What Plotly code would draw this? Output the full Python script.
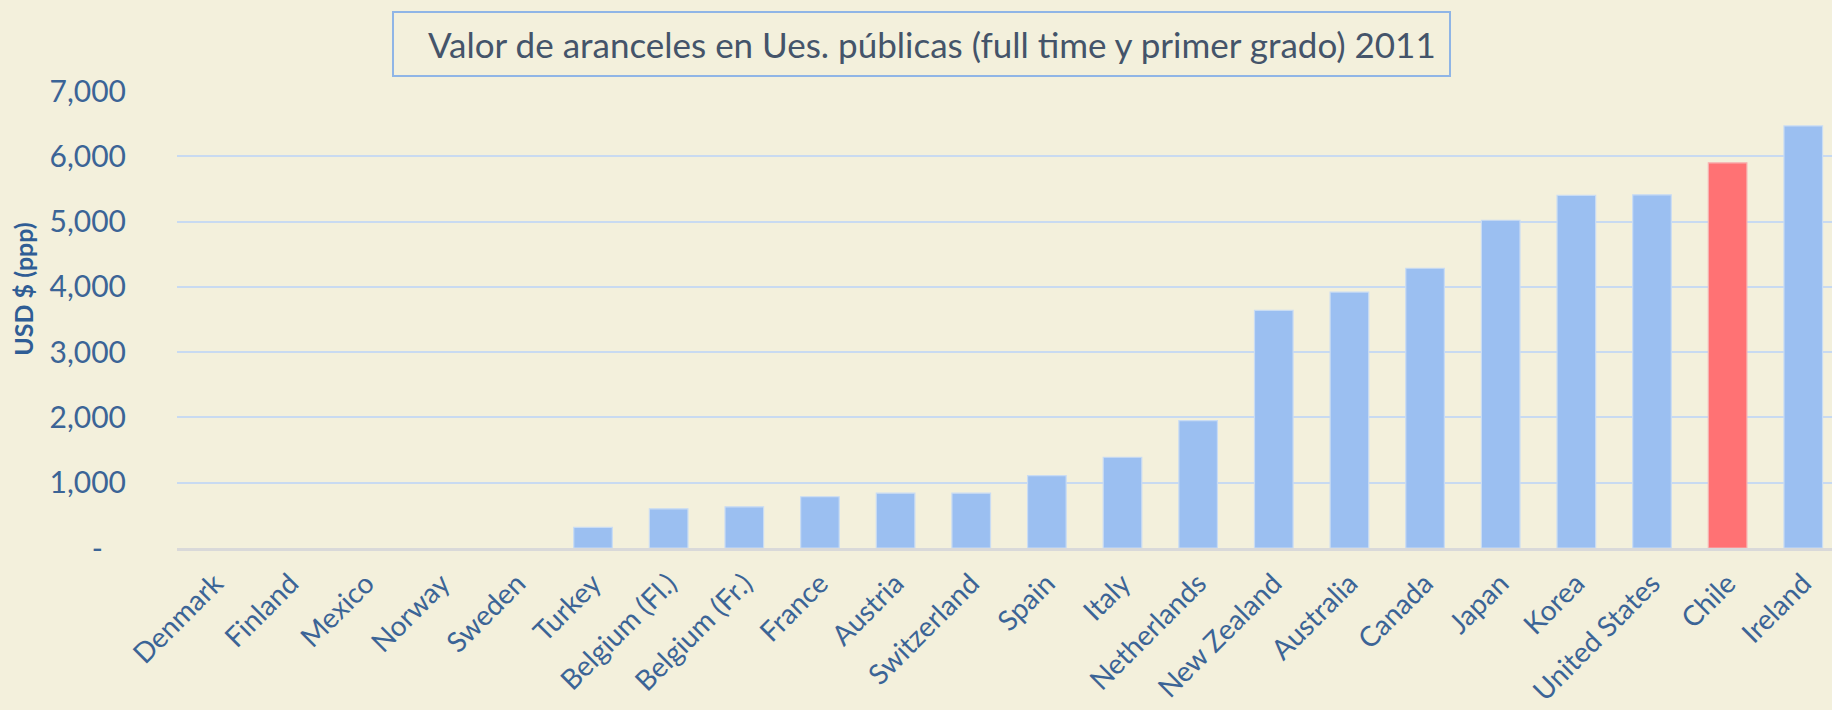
import plotly.graph_objects as go

countries = ["Denmark", "Finland", "Mexico", "Norway", "Sweden", "Turkey",
             "Belgium (Fl.)", "Belgium (Fr.)", "France", "Austria", "Switzerland",
             "Spain", "Italy", "Netherlands", "New Zealand", "Australia", "Canada",
             "Japan", "Korea", "United States", "Chile", "Ireland"]
fees = [0, 0, 0, 0, 0, 315, 600, 630, 785, 840, 840, 1110, 1390, 1950,
        3640, 3920, 4285, 5020, 5400, 5410, 5900, 6465]
highlight = "Chile"

y_tickvals = [0, 1000, 2000, 3000, 4000, 5000, 6000, 7000]
y_ticktext = ["-\u00a0\u00a0\u00a0", "1,000", "2,000", "3,000", "4,000", "5,000", "6,000", "7,000"]

title_text = "Valor de aranceles en Ues. públicas (full time y primer grado) 2011"
y_title = "USD $ (ppp)"

BG = "#f3f0dc"
BLUE = "#9bbff1"
RED = "#ff7274"
TXT = "#3b6496"

colors = [RED if c == highlight else BLUE for c in countries]
edge = ["#f7b3b3" if c == highlight else "#c9dcf3" for c in countries]
edge_w = [1.2 if v > 0 else 0 for v in fees]

fig = go.Figure(go.Bar(
    x=countries, y=fees,
    marker=dict(color=colors, line=dict(color=edge, width=edge_w)),
))

W, H = 1832, 710
ml, mr, mt, mb = 177, 0, 91, 161.5
pw = W - ml - mr
ph = H - mt - mb

def px_x(p):
    return (p - ml) / pw

def px_y(p):
    return (H - mb - p) / ph

fig.update_layout(
    width=W, height=H,
    paper_bgcolor=BG, plot_bgcolor=BG,
    margin=dict(l=ml, r=mr, t=mt, b=mb, autoexpand=False),
    bargap=0.49,
    showlegend=False,
    font=dict(family="Lato, Open Sans, sans-serif", color=TXT),
    xaxis=dict(
        type="category",
        range=[-0.5, 21.38],
        tickangle=-45,
        tickfont=dict(size=28, color=TXT),
        ticks="outside", ticklen=5, tickcolor="rgba(0,0,0,0)",
        showgrid=False, zeroline=False,
        showline=True, linecolor="#d9d9d9", linewidth=3,
    ),
    yaxis=dict(
        range=[0, 7000],
        tickvals=y_tickvals, ticktext=y_ticktext,
        tickfont=dict(size=30, color=TXT),
        ticks="outside", ticklen=44, tickcolor="rgba(0,0,0,0)",
        showgrid=True, gridcolor="#c8daf1", gridwidth=2,
        zeroline=False, showline=False,
    ),
    shapes=[dict(
        type="rect", xref="paper", yref="paper",
        x0=px_x(393), x1=px_x(1450), y0=px_y(76), y1=px_y(12),
        line=dict(color="#8fb5e6", width=2), fillcolor=BG, layer="above",
    )],
    annotations=[
        dict(text=title_text, xref="paper", yref="paper",
             x=px_x(932), y=px_y(44), xanchor="center", yanchor="middle",
             showarrow=False, font=dict(size=35, color="#44546a")),
        dict(text="<b>" + y_title + "</b>", xref="paper", yref="paper",
             x=px_x(23), y=px_y(290), xanchor="center", yanchor="middle",
             textangle=-90, showarrow=False, font=dict(size=25, color="#2f5d95")),
    ],
)

fig.write_html(
    "out.html",
    config={"displayModeBar": False},
    post_script="document.body.style.margin='0';document.body.style.background='#f3f0dc';",
)
